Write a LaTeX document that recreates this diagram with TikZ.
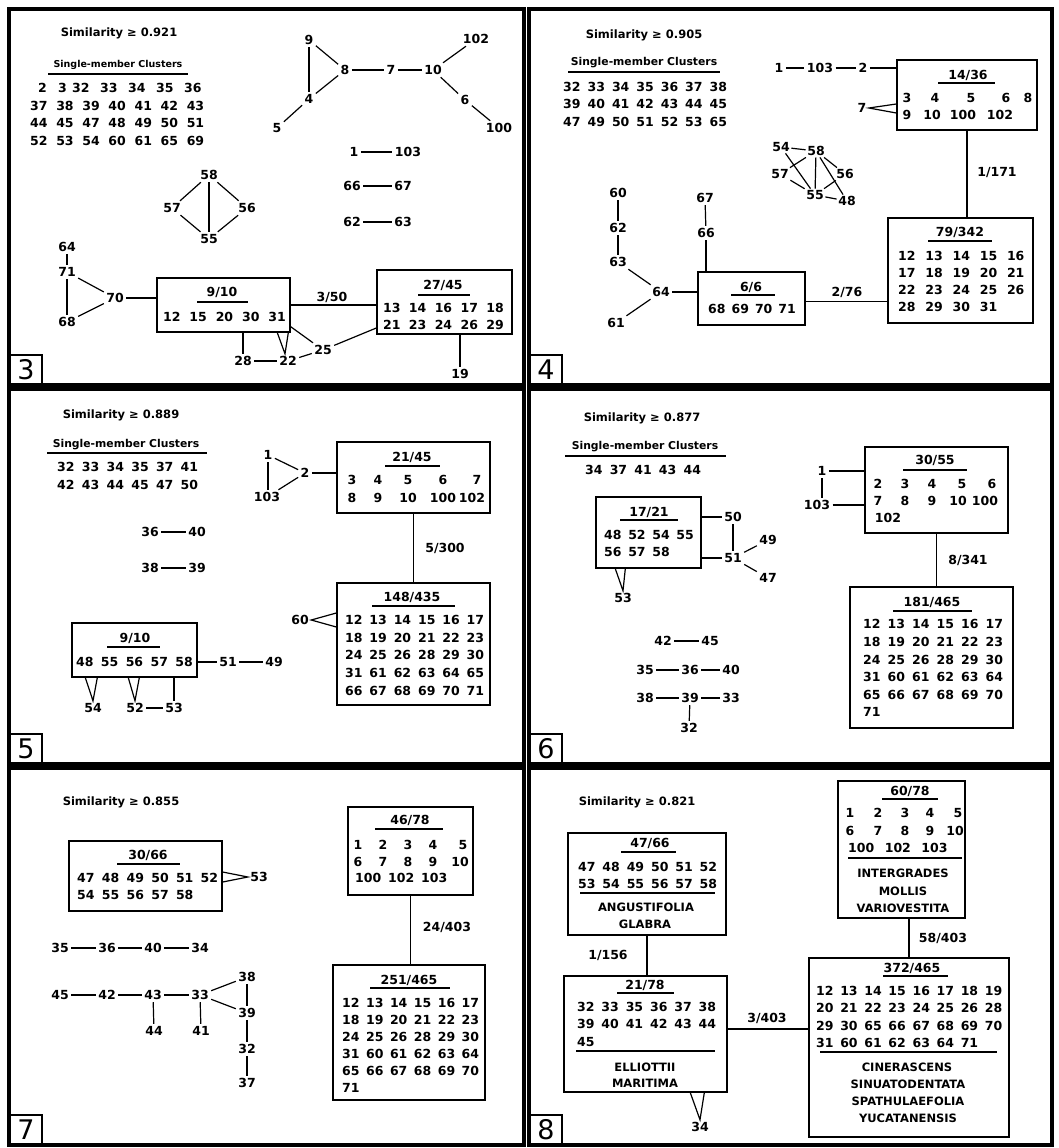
\documentclass[tikz,border=0pt]{standalone}
\usepackage{fontspec}
\newfontfamily\dvs{DejaVu Sans}
\newcommand\cbx[5]{\node[cbox, minimum width={(#4-#2)*1pt}, minimum height={(#5-#3)*1pt}] (#1) at ({(#2+#4)/2},{(#3+#5)/2}) {};}
\tikzset{
  frame/.style={draw, line width=4.5pt},
  labbox/.style={draw, line width=2pt, minimum width=32pt, minimum height=29pt, inner sep=0pt, anchor=south west, font=\dvs\fontsize{27}{27}\selectfont},
  cbox/.style={draw, line width=1.4pt, inner sep=0pt},
  conn/.style={line width=1.2pt},
  uline/.style={line width=1.3pt},
  g/.style={font=\dvs\bfseries\fontsize{12.5}{14}\selectfont, inner sep=2.3pt},
  frac/.style={font=\dvs\bfseries\fontsize{12.5}{14}\selectfont, inner sep=0pt},
  nrow/.style={font={\dvs\bfseries\fontsize{12.5}{14}\selectfont\spaceskip=#1\relax}, inner sep=0pt, anchor=west},
  nrow/.default=7pt,
  title/.style={font=\dvs\bfseries\fontsize{11.5}{13}\selectfont, inner sep=0pt},
  smc/.style={font=\dvs\bfseries\fontsize{#1}{13}\selectfont, inner sep=0pt},
  smc/.default=10.8,
  taxon/.style={font=\dvs\bfseries\fontsize{11.5}{13}\selectfont, inner sep=0pt},
}
\begin{document}
\begin{tikzpicture}[x=1pt,y=-1pt]
\useasboundingbox (0,0) rectangle (1059,1148);
\fill[white] (0,0) rectangle (1059,1148);
% panel frames
\draw[frame] (9,9) rectangle (524,385);
\draw[frame] (529,9) rectangle (1052,385);
\draw[frame] (9,389) rectangle (524,764);
\draw[frame] (529,389) rectangle (1052,764);
\draw[frame] (9,768) rectangle (524,1145);
\draw[frame] (529,768) rectangle (1052,1145);
\node[labbox] (a-lab) at (9,385) {3};
\node[labbox] (b-lab) at (529,385) {4};
\node[labbox] (c-lab) at (9,764) {5};
\node[labbox] (d-lab) at (529,764) {6};
\node[labbox] (e-lab) at (9,1145) {7};
\node[labbox] (f-lab) at (529,1145) {8};

%%%%%%%%%% PANEL 3
\node[title] (a-title) at (119,33) {Similarity ≥ 0.921};
\node[smc=9.5] (a-smc) at (118,65) {Single-member Clusters};
\draw[uline] (48,74) -- (188,74);
\node[nrow] (a-r1a) at (38,88) {2};
\node[nrow] (a-r1b) at (58,88) {3};
\node[nrow=10.6pt] (a-r1c) at (72,88) {32 33 34 35 36};
\node[nrow=8.7pt] (a-r2) at (30,106) {37 38 39 40 41 42 43};
\node[nrow=8.7pt] (a-r3) at (30,123) {44 45 47 48 49 50 51};
\node[nrow=8.7pt] (a-r4) at (30,141) {52 53 54 60 61 65 69};
\node[g] (a9) at (309,40) {9};
\node[g] (a8) at (345,70) {8};
\node[g] (a7) at (391,70) {7};
\node[g] (a10) at (433,70) {10};
\node[g] (a102) at (476,39) {102};
\node[g] (a4) at (309,99) {4};
\node[g] (a5) at (277,128) {5};
\node[g] (a6) at (465,100) {6};
\node[g] (a100) at (499,128) {100};
\draw[conn] (a9) -- (a8); \draw[conn] (a9) -- (a4); \draw[conn] (a8) -- (a4);
\draw[conn] (a4) -- (a5); \draw[conn] (a8) -- (a7); \draw[conn] (a7) -- (a10);
\draw[conn] (a10) -- (a102); \draw[conn] (a10) -- (a6); \draw[conn] (a6) -- (a100);
\node[g] (a1) at (354,152) {1}; \node[g] (a103) at (408,152) {103};
\draw[conn] (a1) -- (a103);
\node[g] (a66) at (352,186) {66}; \node[g] (a67) at (403,186) {67};
\draw[conn] (a66) -- (a67);
\node[g] (a62) at (352,222) {62}; \node[g] (a63) at (403,222) {63};
\draw[conn] (a62) -- (a63);
\node[g] (a58) at (209,175) {58}; \node[g] (a57) at (172,208) {57};
\node[g] (a56) at (247,208) {56}; \node[g] (a55) at (209,239) {55};
\draw[conn] (a58) -- (a57); \draw[conn] (a58) -- (a56); \draw[conn] (a58) -- (a55);
\draw[conn] (a57) -- (a55); \draw[conn] (a56) -- (a55);
\node[g] (a64) at (67,247) {64}; \node[g] (a71) at (67,272) {71};
\node[g] (a68) at (67,322) {68}; \node[g] (a70) at (115,298) {70};
\draw[conn] (a64) -- (a71); \draw[conn] (a71) -- (a68);
\draw[conn] (a71) -- (a70); \draw[conn] (a68) -- (a70);
\cbx{a-b1}{157}{278}{290}{332}
\node[frac] (a-f1) at (222,292) {9/10};
\draw[uline] (197,302) -- (248,302);
\node[nrow=8.9pt] (a-b1r) at (163,317) {12 15 20 30 31};
\draw[conn] (a70) -- (a70 -| a-b1.west);
\cbx{a-b2}{377}{270}{512}{334}
\node[frac] (a-f2) at (443,285) {27/45};
\draw[uline] (418,295) -- (470,295);
\node[nrow=8.4pt] (a-b2r1) at (383,308) {13 14 16 17 18};
\node[nrow=8.4pt] (a-b2r2) at (383,325) {21 23 24 26 29};
\draw[conn] (a-b1.east) -- (a-b1.east -| a-b2.west);
\node[g] (a-l350) at (332,297) {3/50};
\node[g] (a25) at (323,350) {25};
\node[g] (a22) at (288,361) {22};
\node[g] (a28) at (243,361) {28};
\node[g] (a19) at (460,374) {19};
\draw[conn] (a28) -- (a22);
\draw[conn] (a28) -- (a28 |- a-b1.south);
\draw[conn] ([xshift=121pt]a-b1.south west) -- ([xshift=-3pt]a22.north) -- ([xshift=132pt]a-b1.south west);
\draw[conn] ([yshift=6pt]a-b1.south east) -- (a25);
\draw[conn] (a22) -- (a25);
\draw[conn] (a25) -- ([yshift=-26pt]a-b2.west);
\draw[conn] (a19) -- (a19 |- a-b2.south);

%%%%%%%%%% PANEL 4
\node[title] (b-title) at (644,35) {Similarity ≥ 0.905};
\node[smc] (b-smc) at (644,63) {Single-member Clusters};
\draw[uline] (568,72) -- (720,72);
\node[nrow] (b-r1) at (563,87) {32 33 34 35 36 37 38};
\node[nrow] (b-r2) at (563,104) {39 40 41 42 43 44 45};
\node[nrow] (b-r3) at (563,122) {47 49 50 51 52 53 65};
\cbx{b-b1}{897}{60}{1037}{130}
\node[frac] (b-f1) at (968,75) {14/36};
\draw[uline] (938,83) -- (995,83);
\foreach \t/\x in {3/907,4/935,5/971,6/1006,8/1028} \node[frac] (b-b1a\t) at (\x,98) {\t};
\foreach \t/\x in {9/907,10/932,100/963,102/1000} \node[frac] (b-b1b\t) at (\x,115) {\t};
\node[g] (b1) at (779,68) {1}; \node[g] (b103) at (820,68) {103}; \node[g] (b2) at (863,68) {2};
\draw[conn] (b1) -- (b103); \draw[conn] (b103) -- (b2); \draw[conn] (b2) -- (b2 -| b-b1.west);
\node[g] (b7) at (862,108) {7};
\draw[conn] ([yshift=-9pt]b-b1.west) -- (b7.east) -- ([yshift=-18pt]b-b1.west);
\cbx{b-b2}{888}{218}{1033}{323}
\node[frac] (b-f2) at (960,232) {79/342};
\draw[uline] (928,241) -- (992,241);
\node[nrow=9.8pt] (b-b2r1) at (898,256) {12 13 14 15 16};
\node[nrow=9.8pt] (b-b2r2) at (898,273) {17 18 19 20 21};
\node[nrow=9.8pt] (b-b2r3) at (898,290) {22 23 24 25 26};
\node[nrow=9.8pt] (b-b2r4) at (898,307) {28 29 30 31};
\draw[conn] (b-b1.south) -- (b-b1.south |- b-b2.north);
\node[g] (b-l1171) at (997,173) {1/171};
\cbx{b-b3}{698}{272}{805}{325}
\node[frac] (b-f3) at (751,287) {6/6};
\draw[uline] (731,295) -- (775,295);
\node[nrow=6pt] (b-b3r) at (708,309) {68 69 70 71};
\coordinate (b-c276) at ([yshift=-3pt]b-b3.east);
\draw[conn] (b-c276) -- (b-c276 -| b-b2.west);
\node[g] (b-l276) at (847,292) {2/76};
\node[g] (b67) at (705,198) {67}; \node[g] (b66) at (706,233) {66};
\draw[conn] (b67) -- (b66); \draw[conn] (b66) -- (b66 |- b-b3.north);
\node[g] (b60) at (618,193) {60}; \node[g] (b62) at (618,228) {62};
\node[g] (b63) at (618,262) {63}; \node[g] (b64) at (661,292) {64};
\node[g] (b61) at (616,323) {61};
\draw[conn] (b60) -- (b62); \draw[conn] (b62) -- (b63); \draw[conn] (b63) -- (b64);
\draw[conn] (b61) -- (b64); \draw[conn] (b64) -- (b64 -| b-b3.west);
\begin{scope}[g/.append style={inner sep=1.5pt}]
\node[g] (b54) at (781,147) {54}; \node[g] (b58) at (816,151) {58};
\node[g] (b57) at (780,174) {57}; \node[g] (b56) at (845,174) {56};
\node[g] (b55) at (815,195) {55}; \node[g] (b48) at (847,201) {48};
\end{scope}
\draw[conn] (b54) -- (b58); \draw[conn] (b54) -- (b55); \draw[conn] (b57) -- (b58);
\draw[conn] (b57) -- (b55); \draw[conn] (b58) -- (b55); \draw[conn] (b58) -- (b56);
\draw[conn] (b58) -- (b48); \draw[conn] (b55) -- (b56); \draw[conn] (b55) -- (b48);

%%%%%%%%%% PANEL 5
\node[title] (c-title) at (121,415) {Similarity ≥ 0.889};
\node[smc] (c-smc) at (126,445) {Single-member Clusters};
\draw[uline] (47,453) -- (207,453);
\node[nrow=7.3pt] (c-r1) at (57,467) {32 33 34 35 37 41};
\node[nrow=7.3pt] (c-r2) at (57,485) {42 43 44 45 47 50};
\node[g] (c36) at (150,532) {36}; \node[g] (c40) at (197,532) {40};
\draw[conn] (c36) -- (c40);
\node[g] (c38) at (150,568) {38}; \node[g] (c39) at (197,568) {39};
\draw[conn] (c38) -- (c39);
\cbx{c-b1}{72}{623}{197}{677}
\node[frac] (c-f1) at (135,638) {9/10};
\draw[uline] (107,647) -- (160,647);
\node[nrow=7.4pt] (c-b1r) at (76,662) {48 55 56 57 58};
\node[g] (c51) at (228,662) {51}; \node[g] (c49) at (274,662) {49};
\draw[conn] (c51) -- (c51 -| c-b1.east); \draw[conn] (c51) -- (c49);
\node[g] (c54) at (93,708) {54};
\node[g] (c52) at (135,708) {52};
\node[g] (c53) at (174,708) {53};
\draw[conn] ([xshift=14pt]c-b1.south west) -- (c54.north) -- ([xshift=26pt]c-b1.south west);
\draw[conn] ([xshift=57pt]c-b1.south west) -- (c52.north) -- ([xshift=68pt]c-b1.south west);
\draw[conn] (c52) -- (c53); \draw[conn] (c53) -- (c53 |- c-b1.south);
\cbx{c-b2}{337}{442}{490}{513}
\node[frac] (c-f2) at (412,457) {21/45};
\draw[uline] (385,466) -- (440,466);
\foreach \t/\x in {3/352,4/378,5/408,6/443,7/477} \node[frac] (c-b2a\t) at (\x,480) {\t};
\foreach \t/\x in {8/352,9/378,10/408,100/443,102/472} \node[frac] (c-b2b\t) at (\x,498) {\t};
\node[g] (c1) at (268,455) {1}; \node[g] (c2) at (305,473) {2}; \node[g] (c103) at (267,497) {103};
\draw[conn] (c1) -- (c1 |- c103.north); \draw[conn] (c1) -- (c2); \draw[conn] (c103) -- (c2);
\draw[conn] (c2) -- (c2 -| c-b2.west);
\cbx{c-b3}{337}{583}{490}{705}
\node[frac] (c-f3) at (412,597) {148/435};
\draw[uline] (372,606) -- (455,606);
\node[nrow=6.9pt] (c-b3r1) at (345,620) {12 13 14 15 16 17};
\node[nrow=6.9pt] (c-b3r2) at (345,638) {18 19 20 21 22 23};
\node[nrow=6.9pt] (c-b3r3) at (345,655) {24 25 26 28 29 30};
\node[nrow=6.9pt] (c-b3r4) at (345,673) {31 61 62 63 64 65};
\node[nrow=6.9pt] (c-b3r5) at (345,691) {66 67 68 69 70 71};
\draw[conn] (c-b2.south) -- (c-b2.south |- c-b3.north);
\node[g] (c-l5300) at (445,548) {5/300};
\node[g] (c60) at (300,620) {60};
\draw[conn] ([yshift=31pt]c-b3.west) -- (c60.east) -- ([yshift=17pt]c-b3.west);

%%%%%%%%%% PANEL 6
\node[title] (d-title) at (642,418) {Similarity ≥ 0.877};
\node[smc] (d-smc) at (645,447) {Single-member Clusters};
\draw[uline] (565,456) -- (726,456);
\node[nrow=7.2pt] (d-r1) at (585,470) {34 37 41 43 44};
\cbx{d-b1}{596}{497}{701}{568}
\node[frac] (d-f1) at (649,512) {17/21};
\draw[uline] (620,520) -- (678,520);
\node[nrow=6.7pt] (d-b1r1) at (604,535) {48 52 54 55};
\node[nrow=6.7pt] (d-b1r2) at (604,552) {56 57 58};
\node[g] (d50) at (733,517) {50}; \node[g] (d51) at (733,558) {51};
\node[g] (d49) at (768,540) {49}; \node[g] (d47) at (768,578) {47};
\draw[conn] (d50) -- (d50 -| d-b1.east); \draw[conn] (d51) -- (d51 -| d-b1.east);
\draw[conn] (d50) -- (d51); \draw[conn] (d51) -- (d49); \draw[conn] (d51) -- (d47);
\node[g] (d53) at (623,598) {53};
\draw[conn] ([xshift=20pt]d-b1.south west) -- (d53.north) -- ([xshift=30pt]d-b1.south west);
\node[g] (d42) at (663,641) {42}; \node[g] (d45) at (710,641) {45};
\node[g] (d35) at (645,670) {35}; \node[g] (d36) at (690,670) {36}; \node[g] (d40) at (731,670) {40};
\node[g] (d38) at (645,698) {38}; \node[g] (d39) at (690,698) {39}; \node[g] (d33) at (731,698) {33};
\node[g] (d32) at (689,728) {32};
\draw[conn] (d42) -- (d45); \draw[conn] (d35) -- (d36); \draw[conn] (d36) -- (d40);
\draw[conn] (d38) -- (d39); \draw[conn] (d39) -- (d33); \draw[conn] (d39) -- (d32);
\cbx{d-b2}{865}{447}{1008}{533}
\node[frac] (d-f2) at (935,460) {30/55};
\draw[uline] (903,470) -- (967,470);
\foreach \t/\x in {2/878,3/905,4/932,5/962,6/992} \node[frac] (d-b2a\t) at (\x,484) {\t};
\foreach \t/\x in {7/878,8/905,9/932,10/958,100/985} \node[frac] (d-b2b\t) at (\x,501) {\t};
\node[frac] (d-b2c102) at (888,518) {102};
\node[g] (d1) at (822,471) {1}; \node[g] (d103) at (817,505) {103};
\draw[conn] (d1) -- (d1 |- d103.north);
\draw[conn] (d1) -- (d1 -| d-b2.west); \draw[conn] (d103) -- (d103 -| d-b2.west);
\cbx{d-b3}{850}{587}{1013}{728}
\node[frac] (d-f3) at (932,602) {181/465};
\draw[uline] (893,611) -- (972,611);
\node[nrow=7.1pt] (d-b3r1) at (863,624) {12 13 14 15 16 17};
\node[nrow=7.1pt] (d-b3r2) at (863,642) {18 19 20 21 22 23};
\node[nrow=7.1pt] (d-b3r3) at (863,660) {24 25 26 28 29 30};
\node[nrow=7.1pt] (d-b3r4) at (863,677) {31 60 61 62 63 64};
\node[nrow=7.1pt] (d-b3r5) at (863,695) {65 66 67 68 69 70};
\node[nrow=7.1pt] (d-b3r6) at (863,712) {71};
\draw[conn] (d-b2.south) -- (d-b2.south |- d-b3.north);
\node[g] (d-l8341) at (968,560) {8/341};

%%%%%%%%%% PANEL 7
\node[title] (e-title) at (121,802) {Similarity ≥ 0.855};
\cbx{e-b1}{69}{841}{222}{911}
\node[frac] (e-f1) at (148,855) {30/66};
\draw[uline] (117,864) -- (180,864);
\node[nrow=7.3pt] (e-b1r1) at (77,878) {47 48 49 50 51 52};
\node[nrow=7.3pt] (e-b1r2) at (77,895) {54 55 56 57 58};
\node[g] (e53) at (259,877) {53};
\draw[conn] ([yshift=4pt]e-b1.east) -- (e53.west) -- ([yshift=-6pt]e-b1.east);
\node[g] (e35) at (60,948) {35}; \node[g] (e36) at (107,948) {36};
\node[g] (e40) at (153,948) {40}; \node[g] (e34) at (200,948) {34};
\draw[conn] (e35) -- (e36); \draw[conn] (e36) -- (e40); \draw[conn] (e40) -- (e34);
\node[g] (e45) at (60,995) {45}; \node[g] (e42) at (107,995) {42};
\node[g] (e43) at (153,995) {43}; \node[g] (e33) at (200,995) {33};
\node[g] (e44) at (154,1031) {44}; \node[g] (e41) at (201,1031) {41};
\draw[conn] (e45) -- (e42); \draw[conn] (e42) -- (e43); \draw[conn] (e43) -- (e33);
\draw[conn] (e43) -- (e44); \draw[conn] (e33) -- (e41);
\node[g] (e38) at (247,977) {38}; \node[g] (e39) at (247,1013) {39};
\node[g] (e32) at (247,1049) {32}; \node[g] (e37) at (247,1083) {37};
\draw[conn] (e33) -- (e38); \draw[conn] (e33) -- (e39); \draw[conn] (e38) -- (e39);
\draw[conn] (e39) -- (e32); \draw[conn] (e32) -- (e37);
\cbx{e-b2}{348}{807}{473}{895}
\node[frac] (e-f2) at (410,820) {46/78};
\draw[uline] (375,829) -- (443,829);
\foreach \t/\x in {1/358,2/383,3/408,4/433,5/463} \node[frac] (e-b2a\t) at (\x,845) {\t};
\foreach \t/\x in {6/358,7/383,8/408,9/433,10/460} \node[frac] (e-b2b\t) at (\x,862) {\t};
\node[nrow=6.9pt] (e-b2c) at (355,878) {100 102 103};
\cbx{e-b3}{333}{965}{485}{1100}
\node[frac] (e-f3) at (409,980) {251/465};
\draw[uline] (370,988) -- (450,988);
\node[nrow=6.5pt] (e-b3r1) at (342,1003) {12 13 14 15 16 17};
\node[nrow=6.5pt] (e-b3r2) at (342,1020) {18 19 20 21 22 23};
\node[nrow=6.5pt] (e-b3r3) at (342,1037) {24 25 26 28 29 30};
\node[nrow=6.5pt] (e-b3r4) at (342,1054) {31 60 61 62 63 64};
\node[nrow=6.5pt] (e-b3r5) at (342,1071) {65 66 67 68 69 70};
\node[nrow=6.5pt] (e-b3r6) at (342,1088) {71};
\draw[conn] (e-b2.south) -- (e-b2.south |- e-b3.north);
\node[g] (e-l24403) at (447,927) {24/403};

%%%%%%%%%% PANEL 8
\node[title] (f-title) at (637,802) {Similarity ≥ 0.821};
\cbx{f-b1}{568}{833}{726}{935}
\node[frac] (f-f1) at (650,843) {47/66};
\draw[uline] (621,852) -- (676,852);
\node[nrow=6.9pt] (f-b1r1) at (578,867) {47 48 49 50 51 52};
\node[nrow=6.9pt] (f-b1r2) at (578,884) {53 54 55 56 57 58};
\draw[uline] (580,893) -- (715,893);
\node[taxon] (f-t1) at (646,907) {ANGUSTIFOLIA};
\node[taxon] (f-t2) at (645,924) {GLABRA};
\cbx{f-b2}{564}{976}{727}{1092}
\node[frac] (f-f2) at (645,985) {21/78};
\draw[uline] (617,993) -- (674,993);
\node[nrow=6.9pt] (f-b2r1) at (577,1007) {32 33 35 36 37 38};
\node[nrow=6.9pt] (f-b2r2) at (577,1024) {39 40 41 42 43 44};
\node[nrow=6.9pt] (f-b2r3) at (577,1042) {45};
\draw[uline] (576,1051) -- (715,1051);
\node[taxon] (f-t3) at (645,1067) {ELLIOTTII};
\node[taxon] (f-t4) at (645,1083) {MARITIMA};
\draw[conn] (f-b1.south) -- (f-b1.south |- f-b2.north);
\node[g] (f-l1156) at (608,955) {1/156};
\node[g] (f34) at (700,1127) {34};
\draw[conn] ([xshift=127pt]f-b2.south west) -- (f34.north) -- ([xshift=141pt]f-b2.south west);
\cbx{f-b3}{838}{781}{965}{918}
\node[frac] (f-f3) at (910,791) {60/78};
\draw[uline] (882,799) -- (938,799);
\foreach \t/\x in {1/850,2/878,3/905,4/930,5/958} \node[frac] (f-b3a\t) at (\x,813) {\t};
\foreach \t/\x in {6/850,7/878,8/905,9/930,10/955} \node[frac] (f-b3b\t) at (\x,831) {\t};
\node[nrow=10.5pt] (f-b3c) at (848,848) {100 102 103};
\draw[uline] (848,858) -- (962,858);
\node[taxon] (f-t5) at (903,873) {INTERGRADES};
\node[taxon] (f-t6) at (903,891) {MOLLIS};
\node[taxon] (f-t7) at (903,908) {VARIOVESTITA};
\cbx{f-b4}{809}{958}{1009}{1137}
\node[frac] (f-f4) at (912,968) {372/465};
\draw[uline] (883,976) -- (948,976);
\node[nrow=6.7pt] (f-b4r1) at (816,991) {12 13 14 15 16 17 18 19};
\node[nrow=6.7pt] (f-b4r2) at (816,1008) {20 21 22 23 24 25 26 28};
\node[nrow=6.7pt] (f-b4r3) at (816,1026) {29 30 65 66 67 68 69 70};
\node[nrow=6.7pt] (f-b4r4) at (816,1043) {31 60 61 62 63 64 71};
\draw[uline] (820,1052) -- (997,1052);
\node[taxon] (f-t8) at (907,1067) {CINERASCENS};
\node[taxon] (f-t9) at (908,1084) {SINUATODENTATA};
\node[taxon] (f-t10) at (908,1101) {SPATHULAEFOLIA};
\node[taxon] (f-t11) at (908,1118) {YUCATANENSIS};
\draw[conn] (f-b4.north) -- (f-b4.north |- f-b3.south);
\node[g] (f-l58403) at (943,938) {58/403};
\coordinate (f-c3403) at ([yshift=5pt]f-b2.east);
\draw[conn] (f-c3403) -- (f-c3403 -| f-b4.west);
\node[g] (f-l3403) at (767,1018) {3/403};
\end{tikzpicture}
\end{document}
